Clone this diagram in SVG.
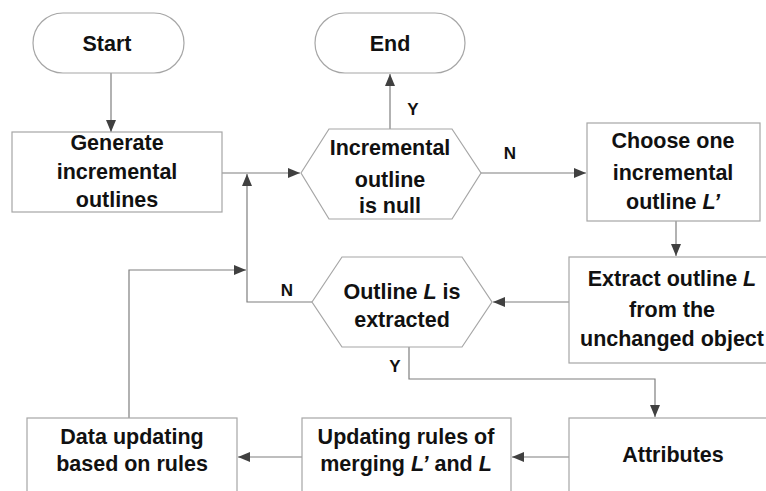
<svg xmlns="http://www.w3.org/2000/svg" width="766" height="491" viewBox="0 0 766 491">
<style>
.n{fill:#fff;stroke:#a6a6a6;stroke-width:1.2}
.t{font-family:"Liberation Sans",Arial,sans-serif;font-weight:bold;font-size:21.5px;fill:#111;text-anchor:middle}
.l{font-size:17px}
.c{fill:none;stroke:#7f7f7f;stroke-width:1.2}
.i{font-style:italic}
</style>
<defs>
<marker id="a" viewBox="0 0 12 10" refX="12" refY="5" markerWidth="12" markerHeight="10" markerUnits="userSpaceOnUse" orient="auto">
<path d="M0,0 L12,5 L0,10 Z" fill="#404040"/>
</marker>
</defs>
<rect width="766" height="491" fill="#fff"/>
<g id="connectors">
<path class="c" d="M111,73 V132" marker-end="url(#a)"/>
<path class="c" d="M222,173 H300" marker-end="url(#a)"/>
<path class="c" d="M312,302 H247 V174" marker-end="url(#a)"/>
<path class="c" d="M129,418 V270 H246" marker-end="url(#a)"/>
<path class="c" d="M390,129 V74" marker-end="url(#a)"/>
<path class="c" d="M481,173 H586" marker-end="url(#a)"/>
<path class="c" d="M676,221 V256" marker-end="url(#a)"/>
<path class="c" d="M569,302 H493" marker-end="url(#a)"/>
<path class="c" d="M409,347 V379 H655 V417" marker-end="url(#a)"/>
<path class="c" d="M569,457 H512" marker-end="url(#a)"/>
<path class="c" d="M302,457 H238" marker-end="url(#a)"/>
<text class="t l" x="413" y="115">Y</text>
<text class="t l" x="510" y="159">N</text>
<text class="t l" x="287" y="296">N</text>
<text class="t l" x="395" y="372">Y</text>
</g>
<g id="start">
<rect class="n" x="33" y="13" width="151" height="60" rx="30"/>
<text class="t" x="107" y="51">Start</text>
</g>
<g id="end">
<rect class="n" x="315" y="13" width="150" height="60" rx="30"/>
<text class="t" x="390" y="51">End</text>
</g>
<g id="generate">
<rect class="n" x="12" y="132" width="210" height="80"/>
<text class="t" x="117" y="150">Generate</text>
<text class="t" x="117" y="179">incremental</text>
<text class="t" x="117" y="207">outlines</text>
</g>
<g id="null">
<polygon class="n" points="301,173 329,129 452,129 481,173 452,219 329,219"/>
<text class="t" x="390" y="155">Incremental</text>
<text class="t" x="390" y="187">outline</text>
<text class="t" x="390" y="213">is null</text>
</g>
<g id="choose">
<rect class="n" x="587" y="123" width="173" height="98"/>
<text class="t" x="673" y="148">Choose one</text>
<text class="t" x="673" y="180">incremental</text>
<text class="t" x="673" y="209">outline <tspan class="i">L’</tspan></text>
</g>
<g id="extract">
<rect class="n" x="569" y="257" width="200" height="106"/>
<text class="t" x="672" y="286">Extract outline <tspan class="i">L</tspan></text>
<text class="t" x="672" y="317">from the</text>
<text class="t" x="672" y="346">unchanged object</text>
</g>
<g id="extracted">
<polygon class="n" points="312,302 342,257 462,257 492,302 462,347 342,347"/>
<text class="t" x="402" y="299">Outline <tspan class="i">L</tspan> is</text>
<text class="t" x="402" y="327">extracted</text>
</g>
<g id="attributes">
<rect class="n" x="569" y="418" width="200" height="80"/>
<text class="t" x="673" y="462">Attributes</text>
</g>
<g id="updating">
<rect class="n" x="302" y="418" width="209" height="80"/>
<text class="t" x="406" y="444">Updating rules of</text>
<text class="t" x="406" y="471">merging <tspan class="i">L’</tspan> and <tspan class="i">L</tspan></text>
</g>
<g id="data">
<rect class="n" x="27" y="418" width="210" height="80"/>
<text class="t" x="132" y="444">Data updating</text>
<text class="t" x="132" y="471">based on rules</text>
</g>
</svg>
